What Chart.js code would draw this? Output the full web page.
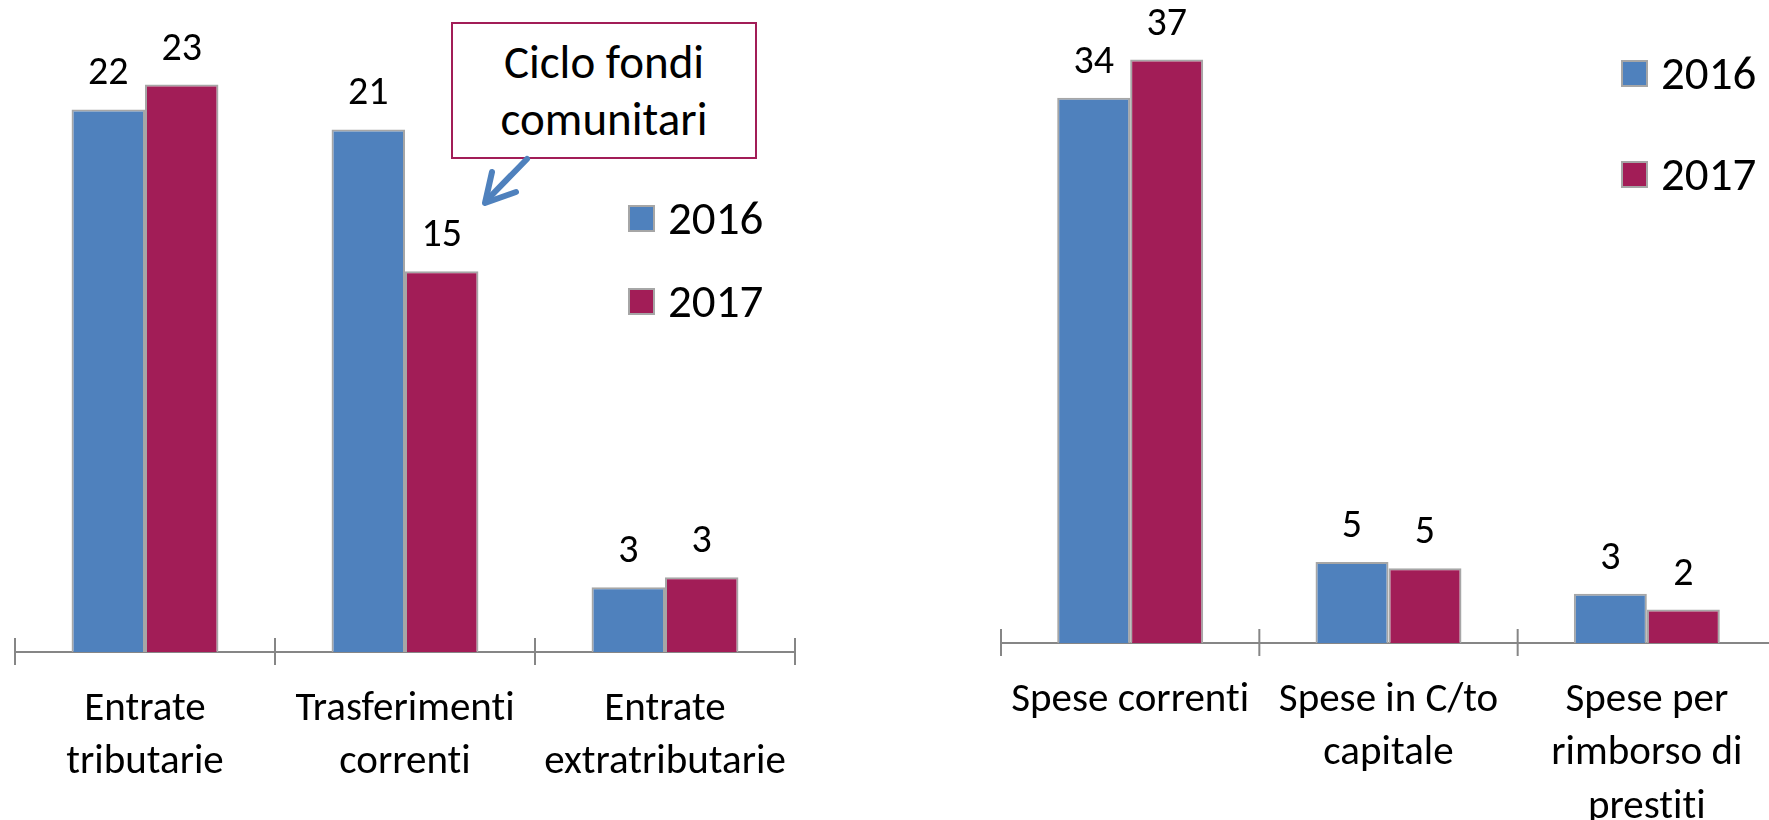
<!DOCTYPE html>
<html>
<head>
<meta charset="utf-8">
<script src="https://cdn.jsdelivr.net/npm/chart.js@4.4.1/dist/chart.umd.min.js"></script>
<style>
  html, body { margin: 0; padding: 0; background: #fff; overflow: hidden; width: 1769px; height: 820px; }
  body { position: relative; font-family: Carlito, "Liberation Sans Narrow", "DejaVu Sans Condensed", sans-serif;
         color: #000; font-variant-ligatures: none; }
  .chart-box { position: absolute; top: 0; width: 800px; height: 820px; }
  #leftBox { left: 5px; }
  #rightBox { left: 991px; }
  .legend { position: absolute; }
  .legend-item { display: flex; align-items: center; font-size: 47px; line-height: 48px; height: 48px; }
  .legend-swatch { width: 27px; height: 27px; box-sizing: border-box; border: 2px solid #a6a6a6; margin-right: 13px; }
  .callout { position: absolute; left: 451px; top: 22px; width: 306px; height: 137px; box-sizing: border-box;
             border: 2px solid #a21d57; display: flex; align-items: center; justify-content: center;
             text-align: center; font-size: 47px; line-height: 57px; background: #fff; }
  svg.arrow { position: absolute; left: 0; top: 0; }
</style>
</head>
<body>
<div class="chart-box" id="leftBox"><canvas id="entrateChart" width="800" height="820"></canvas></div>
<div class="chart-box" id="rightBox"><canvas id="speseChart" width="800" height="820"></canvas></div>
<div class="legend" id="entrateLegend" style="left:628px; top:194px;"></div>
<div class="legend" id="speseLegend" style="left:1621px; top:49px;"></div>
<div class="callout">Ciclo fondi<br>comunitari</div>
<svg class="arrow" width="1769" height="820">
  <g stroke="#4f81bd" stroke-width="6" stroke-linecap="round" stroke-linejoin="round" fill="none">
    <line x1="527" y1="159" x2="486" y2="201"/>
    <polyline points="492,172 485,203 516,192"/>
  </g>
</svg>
<script>
// dati (milioni)
const seriesNames = ['2016', '2017'];
const seriesColors = ['#4f81bd', '#a21d57'];

const entrateLabels = [['Entrate', 'tributarie'], ['Trasferimenti', 'correnti'], ['Entrate', 'extratributarie']];
const entrate2016 = [21.8, 21.0, 2.6];
const entrate2017 = [22.8, 15.3, 3.0];

const speseLabels = ['Spese correnti', ['Spese in C/to', 'capitale'], ['Spese per', 'rimborso di', 'prestiti']];
const spese2016 = [34.3, 5.1, 3.1];
const spese2017 = [36.7, 4.7, 2.1];

const FONT = 'Carlito, "Liberation Sans Narrow", "DejaVu Sans Condensed", sans-serif';
Chart.defaults.font.family = FONT;
Chart.defaults.color = '#000';

// niente legature ("ti") nel testo disegnato sul canvas
const noLigatures = {
    id: 'noLigatures',
    beforeDraw(chart) {
        chart.ctx.textRendering = 'optimizeSpeed';
    }
};

// valori sopra le barre
const valueLabels = {
    id: 'valueLabels',
    afterDatasetsDraw(chart) {
        const ctx = chart.ctx;
        ctx.save();
        ctx.font = '40px ' + FONT;
        ctx.fillStyle = '#000';
        ctx.textAlign = 'center';
        ctx.textBaseline = 'alphabetic';
        chart.data.datasets.forEach((ds, i) => {
            chart.getDatasetMeta(i).data.forEach((bar, j) => {
                ctx.fillText(Math.round(ds.data[j]), bar.x, bar.y - 25);
            });
        });
        ctx.restore();
    }
};

// tacche dell'asse x, sopra e sotto la linea
const axisTicks = {
    id: 'axisTicks',
    afterDraw(chart) {
        const x = chart.scales.x;
        const ctx = chart.ctx;
        const y0 = chart.chartArea.bottom;
        const n = chart.data.labels.length;
        ctx.save();
        ctx.strokeStyle = '#868686';
        ctx.lineWidth = 2;
        for (let i = 0; i <= n; i++) {
            let px;
            if (i === 0) px = x.left;
            else if (i === n) px = x.right;
            else px = (x.getPixelForValue(i - 1) + x.getPixelForValue(i)) / 2;
            ctx.beginPath();
            ctx.moveTo(px, y0 - 14);
            ctx.lineTo(px, y0 + 13);
            ctx.stroke();
        }
        ctx.restore();
    }
};

function makeChart(id, labels, d2016, d2017, yMax, axisHeight, padRight) {
    return new Chart(document.getElementById(id), {
        type: 'bar',
        data: {
            labels: labels,
            datasets: [d2016, d2017].map((d, i) => ({
                label: seriesNames[i],
                data: d,
                backgroundColor: seriesColors[i],
                borderColor: '#a6a6a6',
                borderWidth: 2,
                categoryPercentage: 0.565,
                barPercentage: 1.0
            }))
        },
        options: {
            responsive: false,
            animation: false,
            layout: { padding: { left: 10, right: padRight, top: 0, bottom: 0 } },
            plugins: {
                legend: { display: false },
                tooltip: { enabled: false }
            },
            scales: {
                x: {
                    grid: { display: false },
                    border: { display: true, color: '#868686', width: 2 },
                    ticks: { font: { size: 41, lineHeight: 1.3 }, padding: 23, color: '#000', maxRotation: 0, autoSkip: false },
                    afterFit(scale) {
                        scale.height = axisHeight;
                        scale.paddingLeft = 0;
                        scale.paddingRight = 0;
                    }
                },
                y: { display: false, min: 0, max: yMax }
            }
        },
        plugins: [noLigatures, valueLabels, axisTicks]
    });
}

function buildLegend(chart, elId, gap) {
    const box = document.getElementById(elId);
    chart.data.datasets.forEach((ds, i) => {
        const item = document.createElement('div');
        item.className = 'legend-item';
        if (i > 0) item.style.marginTop = gap + 'px';
        const sw = document.createElement('span');
        sw.className = 'legend-swatch';
        sw.style.background = ds.backgroundColor;
        const txt = document.createElement('span');
        txt.textContent = ds.label;
        item.appendChild(sw);
        item.appendChild(txt);
        box.appendChild(item);
    });
}

const entrateChart = makeChart('entrateChart', entrateLabels, entrate2016, entrate2017, 26.2, 168, 10);
const speseChart = makeChart('speseChart', speseLabels, spese2016, spese2017, 40.45, 177, 15);
buildLegend(entrateChart, 'entrateLegend', 35);
buildLegend(speseChart, 'speseLegend', 53);
</script>
</body>
</html>
